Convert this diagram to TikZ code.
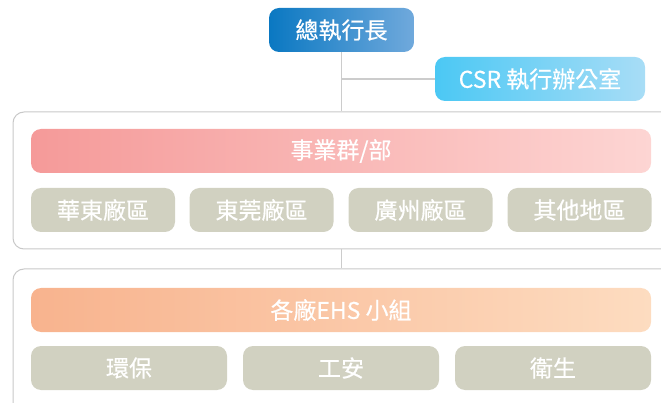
\documentclass[tikz,border=0pt]{standalone}
\usepackage{fontspec}
\setmainfont{Noto Sans CJK TC}
\newfontfamily\medfont{Noto Sans CJK TC}[FakeBold=0.5]
\definecolor{ceoL}{HTML}{0A78C2}
\definecolor{ceoR}{HTML}{70A9DC}
\definecolor{csrL}{HTML}{4BC8F4}
\definecolor{csrR}{HTML}{A8DDF6}
\definecolor{pinkL}{HTML}{F59A99}
\definecolor{pinkR}{HTML}{FDD5D3}
\definecolor{orL}{HTML}{F8B38E}
\definecolor{orR}{HTML}{FDDCC0}
\definecolor{unitgrey}{HTML}{D1D1C1}
\definecolor{lineg}{HTML}{CCCCCC}
\definecolor{frameg}{HTML}{C8C8C8}
\tikzset{
  lbl/.style={text=white, font=\medfont\fontsize{23}{26}\selectfont, inner sep=0pt, rounded corners=10pt, minimum height=44pt},
  unit/.style={lbl, fill=unitgrey},
  frame/.style={draw=frameg, line width=1pt, rounded corners=11pt, inner sep=0pt},
  conn/.style={draw=lineg, line width=1.2pt},
}
\begin{document}
\begin{tikzpicture}[x=1pt,y=-1pt]
\useasboundingbox (0,0) rectangle (661,403);
\clip (0,0) rectangle (661,403);
% frames
\node[frame, minimum width=660pt, minimum height=137pt] (outer1) at (343,180.5) {};
\node[frame, minimum width=660pt, minimum height=150pt] (outer2) at (343,344) {};
% top
\node[lbl, left color=ceoL, right color=ceoR, minimum width=145pt] (ceo) at (341.5,30) {總執行長};
\node[lbl, left color=csrL, right color=csrR, minimum width=210pt] (csr) at (540,79) {CSR 執行辦公室};
% bars
\node[lbl, left color=pinkL, right color=pinkR, minimum width=620pt] (biz) at (341,151) {事業群/部};
\node[unit, minimum width=144pt] (u1) at (103,210) {華東廠區};
\node[unit, minimum width=144pt] (u2) at (261.5,210) {東莞廠區};
\node[unit, minimum width=144pt] (u3) at (420.5,210) {廣州廠區};
\node[unit, minimum width=144pt] (u4) at (579.5,210) {其他地區};
\node[lbl, left color=orL, right color=orR, minimum width=620pt] (ehs) at (341,310) {各廠EHS 小組};
\node[unit, minimum width=196pt] (e1) at (129,368) {環保};
\node[unit, minimum width=196pt] (e2) at (341,368) {工安};
\node[unit, minimum width=196pt] (e3) at (553,368) {衛生};
% connectors
\coordinate (j) at (ceo.south |- csr.west);
\draw[conn] (ceo.south) -- (ceo.south |- outer1.north);
\draw[conn] (j) -- (csr.west);
\draw[conn] (ceo.south |- outer1.south) -- (ceo.south |- outer2.north);
\end{tikzpicture}
\end{document}
